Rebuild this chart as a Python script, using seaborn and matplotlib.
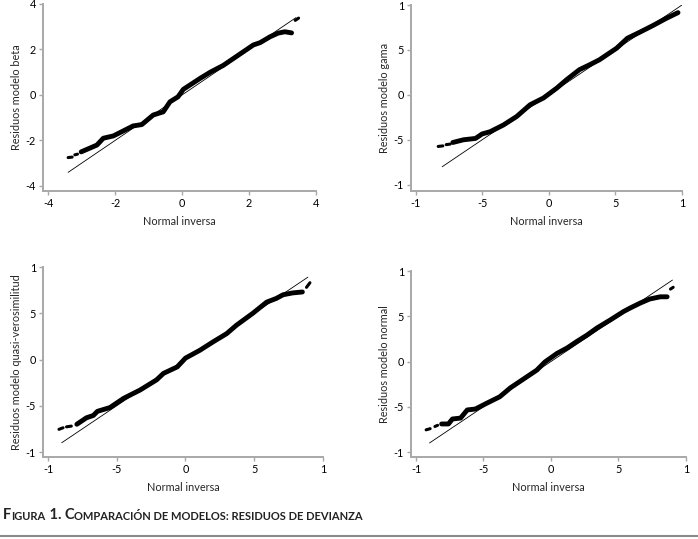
import matplotlib
matplotlib.use("Agg")
import matplotlib.pyplot as plt
import matplotlib.text as mtext
import matplotlib.lines as mlines
import seaborn as sns
import pandas as pd

sns.set_theme(style="white")
plt.rcParams['font.family'] = ['Lato', 'DejaVu Sans']

# ---------------- data ----------------
# Panel 1: beta model
beta_x = [-3.40, -3.28, -3.20, -3.12,
          -3.01, -2.54, -2.35, -2.05, -1.46, -1.20, -0.86, -0.56, -0.36, -0.12, 0.04,
          0.54, 0.84, 1.23, 1.53, 1.83, 2.13, 2.33, 2.63, 2.87, 3.07, 3.27,
          3.38, 3.48]
beta_y = [-2.75, -2.73, -2.63, -2.60,
          -2.50, -2.20, -1.90, -1.80, -1.36, -1.30, -0.88, -0.74, -0.30, -0.08, 0.25,
          0.73, 1.00, 1.30, 1.60, 1.90, 2.20, 2.30, 2.56, 2.72, 2.78, 2.73,
          3.28, 3.38]
beta_seg = [0, 0, 1, 1] + [2] * 22 + [3, 3]
beta_line = [-3.40, 3.40]

# Panel 2: gamma model (tick units)
gama_x = [-8.30, -7.95, -7.70, -7.40,
          -7.20, -6.40, -5.50, -5.00, -4.40, -3.40, -2.40, -1.40, -0.40, 0.60, 1.35,
          2.30, 3.07, 3.80, 4.40, 5.10, 5.90, 6.80, 7.80, 8.80, 9.70,
          10.15, 10.50]
gama_y = [-5.74, -5.68, -5.54, -5.48,
          -5.30, -5.00, -4.85, -4.35, -4.10, -3.35, -2.40, -1.10, -0.35, 0.75, 1.70,
          2.80, 3.35, 3.90, 4.50, 5.20, 6.30, 6.95, 7.70, 8.50, 9.15,
          8.98, 8.85]
gama_seg = [0, 0, 1, 1] + [2] * 21 + [3, 3]
gama_line = [-8.0, 10.2]

# Panel 3: quasi-likelihood model (tick units)
quasi_x = [-9.20, -8.90, -8.65, -8.30,
           -7.90, -7.20, -6.70, -6.40, -5.50, -4.50, -3.30, -2.10, -1.60, -0.60, 0.00,
           1.05, 2.00, 3.00, 3.70, 4.90, 5.90, 6.60, 7.10, 7.80, 8.50,
           8.80, 9.05]
quasi_y = [-7.55, -7.38, -7.28, -7.20,
           -7.00, -6.30, -6.05, -5.60, -5.20, -4.20, -3.30, -2.20, -1.50, -0.80, 0.15,
           1.00, 1.90, 2.80, 3.70, 5.00, 6.20, 6.60, 7.00, 7.20, 7.30,
           7.80, 8.30]
quasi_seg = [0, 0, 1, 1] + [2] * 21 + [3, 3]
quasi_line = [-9.0, 8.9]

# Panel 4: normal model (tick units)
normal_x = [-9.25, -8.95, -8.60, -8.40,
            -8.10, -7.60, -7.30, -6.70, -6.20, -5.60, -4.75, -3.80, -3.00, -2.10, -1.05,
            -0.45, 0.45, 1.20, 1.90, 2.65, 3.40, 4.40, 5.35, 5.85, 6.60, 7.30, 8.10, 8.60,
            8.85, 9.05]
normal_y = [-7.55, -7.42, -7.18, -7.05,
            -6.90, -6.90, -6.35, -6.25, -5.35, -5.25, -4.60, -3.90, -2.90, -2.00, -0.95,
            -0.05, 0.90, 1.50, 2.20, 2.90, 3.70, 4.60, 5.50, 5.90, 6.45, 6.90, 7.15, 7.15,
            8.00, 8.20]
normal_seg = [0, 0, 1, 1] + [2] * 24 + [3, 3]
normal_line = [-9.0, 9.0]

ylabels = ["Residuos modelo beta", "Residuos modelo gama",
           "Residuos modelo quasi-verosimilitud", "Residuos modelo normal"]
xlabel = "Normal inversa"
ticks_beta = [-4, -2, 0, 2, 4]
ticklabels_beta = ["-4", "-2", "0", "2", "4"]
ticks_small = [-10, -5, 0, 5, 10]
ticklabels_small = ["-1", "-5", "0", "5", "1"]
caption_pieces = [("F", 10.5), ("IGURA", 8), (" 1. ", 10.5), ("C", 10.5),
                  ("OMPARACIÓN DE MODELOS: RESIDUOS DE DEVIANZA", 8)]

# ---------------- layout ----------------
W, H = 698, 539
fig = plt.figure(figsize=(W / 100, H / 100), dpi=100)

def px_axes(l, t, r, b):
    return fig.add_axes([l / W, 1 - b / H, (r - l) / W, (b - t) / H])

panels = [
    (beta_x, beta_y, beta_seg, beta_line, (43, 4, 316, 191), (-4.15, 4.0), (-4.22, 4.0),
     ticks_beta, ticklabels_beta),
    (gama_x, gama_y, gama_seg, gama_line, (411, 5, 682, 191), (-10.34, 10.0), (-10.7, 10.0),
     ticks_small, ticklabels_small),
    (quasi_x, quasi_y, quasi_seg, quasi_line, (43, 267, 323, 457), (-10.36, 10.0), (-10.54, 10.0),
     ticks_small, ticklabels_small),
    (normal_x, normal_y, normal_seg, normal_line, (411, 271, 686, 457), (-10.37, 10.0), (-10.55, 10.0),
     ticks_small, ticklabels_small),
]

spine_col = "#a8a8a8"
for i, (xs, ys, seg, ln, box, xl, yl, tks, tkl) in enumerate(panels):
    ax = px_axes(*box)
    df = pd.DataFrame({"x": xs, "y": ys, "seg": seg})
    body = df[df["seg"] == 2]
    tails = df[df["seg"] != 2]
    sns.lineplot(data=body, x="x", y="y", estimator=None, sort=False,
                 color="black", linewidth=3.5, solid_capstyle="round", ax=ax)
    sns.lineplot(data=tails, x="x", y="y", units="seg", estimator=None, sort=False,
                 color="black", linewidth=2.2, solid_capstyle="round", ax=ax)
    ldf = pd.DataFrame({"x": ln, "y": ln})
    sns.lineplot(data=ldf, x="x", y="y", color="black", linewidth=0.6, ax=ax)
    ax.set_xlim(*xl)
    ax.set_ylim(*yl)
    ax.set_xticks(tks)
    ax.set_xticklabels(tkl)
    ax.set_yticks(tks)
    ax.set_yticklabels(tkl)
    for s in ["top", "right"]:
        ax.spines[s].set_visible(False)
    for s in ["left", "bottom"]:
        ax.spines[s].set_color(spine_col)
        ax.spines[s].set_linewidth(1.4)
    ax.tick_params(axis="both", direction="out", length=3, width=1, color=spine_col,
                   labelsize=7.8, labelcolor="black", pad=2, left=True, bottom=True)
    ax.set_xlabel(xlabel, fontsize=7.8, labelpad=5)
    ax.set_ylabel(ylabels[i], fontsize=7.8, labelpad=3)
    ax.set_facecolor("white")

# ---------------- caption in small caps ----------------
cap_col = "#222222"
x0, y0 = 3 / W, 1 - 519 / H
t_prev = None
for txt, fs in caption_pieces:
    if t_prev is None:
        t_prev = fig.text(x0, y0, txt, fontsize=fs, fontweight="bold", color=cap_col,
                          ha="left", va="baseline")
    else:
        t_prev = fig.add_artist(mtext.Annotation(
            txt, xy=(1, 0), xycoords=t_prev, xytext=(0, 0), textcoords="offset points",
            fontsize=fs, fontweight="bold", color=cap_col, ha="left", va="bottom"))

fig.add_artist(mlines.Line2D([0, 1], [1 - 536 / H, 1 - 536 / H],
                             color="#8a8a8a", linewidth=1.5,
                             transform=fig.transFigure))

fig.savefig("out.png", dpi=100, facecolor="white")
